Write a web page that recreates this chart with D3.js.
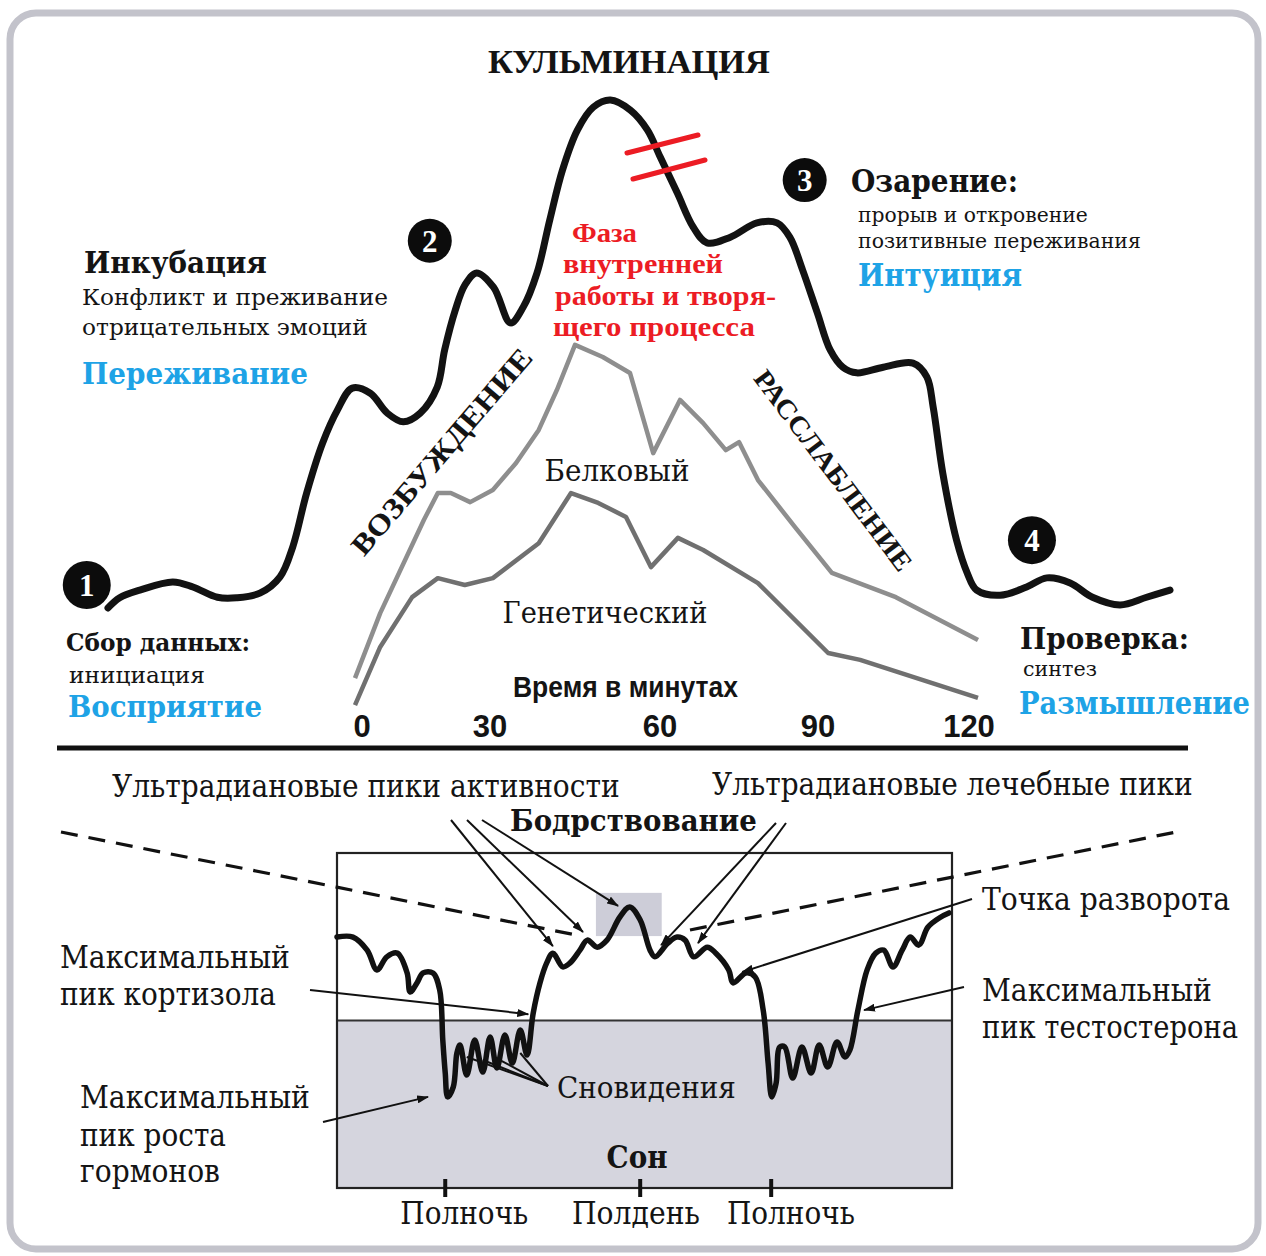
<!DOCTYPE html>
<html><head><meta charset="utf-8">
<script src="https://cdn.jsdelivr.net/npm/d3@7"></script>
<style>body{margin:0;background:#fff}</style>
</head><body><svg id="c" width="1266" height="1256"></svg>
<script>
// ===== DATA =====
// Upper chart: creative process curve (phase 0..100, intensity 0..100)
const phaseX = [0,1.1,3.0,6.1,8.0,10.3,12.1,14.3,16.2,17.4,18.7,20.2,21.6,23.0,24.7,26.3,27.8,29.4,31.0,31.7,32.7,33.6,34.7,36.3,37.9,39.1,40.4,41.6,42.8,44.2,45.7,47.3,49.2,50.8,52.0,53.6,55.1,56.4,58.6,61.1,63.0,64.2,65.4,66.8,68.0,69.2,70.5,73.0,75.8,77.1,77.7,78.6,79.9,80.9,81.8,84.0,86.5,88.4,90.6,92.7,95.3,97.8,100];
const phaseY = [0.4,2.4,3.9,5.5,4.5,2.5,2.4,3.3,6.5,12.4,22.9,32.7,39.2,43.5,42.5,38.6,36.9,38.6,43.7,51.0,58.8,63.7,66.1,63.3,56.3,59.4,66.1,76.5,86.3,94.1,98.6,100,98.0,94.1,88.8,81.8,75.1,72.0,73.1,75.9,75.9,73.1,66.7,58.2,51.0,47.6,46.5,47.6,48.4,45.7,39.8,26.9,13.7,7.3,3.9,2.9,4.5,6.3,5.3,2.5,1.0,2.5,3.9];
const stageNums = ["1","2","3","4"];
const stageX = [-2.0,30.3,65.6,87.0];
const stageY = [4.9,72.4,84.3,13.7];

// Inner chart: time in minutes
const minuteTicks = [0,30,60,90,120];
const proteinMinutes = [0,5.6,15.3,18.4,21.3,25.6,30.5,34.6,38.6,41.8,45.0,49.9,54.7,58.8,63.8,68.2,72.5,75.0,78.6,85.6,92.6,104.6,120];
const proteinLevel = [8.4,25.5,50,57.1,57.1,54.7,57.9,65,73.7,84.2,96.1,92.9,88.7,67.6,81.6,75.5,68.4,70.5,60.5,48.2,36.1,29.7,18.4];
const geneticMinutes = [0,5.6,12.7,18.4,24.4,30.5,38.6,44.3,49.1,54.0,58.4,63.4,68.2,78.6,91.9,97.9,120];
const geneticLevel = [1.3,16.6,29.7,34.7,32.9,34.7,43.9,57.1,54.5,50.8,37.6,45.3,42.1,33.4,15,13.2,3.2];

// Lower chart: 24h cycle (time 0..100, alertness 0..100)
const dayX = [0,2.6,4.9,6.5,8.1,9.8,11.4,11.9,13.0,14.0,15.6,16.7,17.2,17.6,18.0,18.9,19.5,20.0,21.1,22.4,23.7,24.9,26.0,27.3,28.5,29.8,30.9,31.9,33.0,34.1,35.1,36.7,37.9,39.5,40.7,42.3,43.9,46.0,47.6,49.3,50.9,51.7,53.8,55.3,56.6,58.0,60.2,61.6,63.7,64.4,66.5,68.0,69.3,70.1,70.7,71.4,72.0,72.8,74.1,75.6,77.1,78.4,79.8,81.3,82.6,83.4,84.7,86.2,87.6,88.9,90.4,91.9,93.2,94.6,96.1,98.2,99.5];
const dayY = [74.9,74.9,71.0,65.1,69.0,70.1,64.2,58.5,61.2,64.2,64.2,59.1,44.2,34.3,27.2,30.1,40.3,42.7,33.7,44.2,34.6,45.1,35.8,45.7,37.3,47.2,39.7,52.2,61.2,67.2,70.1,66.0,67.2,71.0,74.0,71.9,74.0,80.9,83.9,80.0,71.0,69.0,73.1,74.9,74.0,69.0,71.9,70.1,65.1,61.2,64.2,63.0,53.1,37.3,27.2,31.3,42.1,42.1,32.8,42.1,34.3,42.7,36.1,43.6,39.1,41.2,53.1,65.1,70.1,71.0,66.0,71.0,74.9,72.5,77.9,80.9,82.1];
const sleepLevel = 50;
const dayTicks = [17.6,49.3,70.6];
const dayTickLabels = ["Полночь","Полдень","Полночь"];
const dayLabelX = [20.7,48.6,73.8];

// ===== SCALES =====
const svg = d3.select("#c");
const px = d3.scaleLinear().domain([0,100]).range([108,1170]);
const py = d3.scaleLinear().domain([0,100]).range([610,100]);
const mx = d3.scaleLinear().domain(minuteTicks).range([355,490,660,818,978]);
const my = d3.scaleLinear().domain([0,100]).range([710,330]);
const dx = d3.scaleLinear().domain([0,100]).range([337,952]);
const dy = d3.scaleLinear().domain([0,100]).range([1188,853]);

const SERIF = "'DejaVu Serif', serif";
const TIMES = "'Liberation Serif', 'Times New Roman', serif";
const SANS = "'Liberation Sans Narrow', 'Liberation Sans', Arial, sans-serif";
const BLUE = "#1ea3e6", RED = "#ec1c24";

// text drawn at its natural size, then scaled horizontally to the reference width
function txt(x, y, s, o = {}) {
  const t = svg.append("text").attr("x", 0).attr("y", 0).text(s)
    .attr("font-family", o.family || SERIF)
    .attr("font-size", o.size || 24)
    .attr("font-weight", o.weight || "normal")
    .attr("fill", o.fill || "#141414")
    .attr("text-anchor", o.anchor || "start");
  let k = 1;
  if (o.len) {
    const w = t.node().getComputedTextLength();
    if (w > 0) k = o.len / w;
  }
  t.attr("transform", `translate(${x},${y})${o.rotate ? ` rotate(${o.rotate})` : ""} scale(${k},1)`);
  return t;
}

// frame
svg.append("rect").attr("x", 10).attr("y", 13).attr("width", 1248).attr("height", 1236)
  .attr("rx", 26).attr("fill", "none").attr("stroke", "#c3c3cb").attr("stroke-width", 7);

const defs = svg.append("defs");
defs.append("marker").attr("id", "ah").attr("viewBox", "0 0 12 8").attr("refX", 11).attr("refY", 4)
  .attr("markerWidth", 12).attr("markerHeight", 8).attr("markerUnits", "userSpaceOnUse").attr("orient", "auto")
  .append("path").attr("d", "M0,0 L12,4 L0,8 Z").attr("fill", "#111");

// ===== UPPER CHART =====
const gline = d3.line();
svg.append("path").attr("d", gline(proteinMinutes.map((m, i) => [mx(m), my(proteinLevel[i])])))
  .attr("fill", "none").attr("stroke", "#8e8e8e").attr("stroke-width", 4.5).attr("stroke-linejoin", "round");
svg.append("path").attr("d", gline(geneticMinutes.map((m, i) => [mx(m), my(geneticLevel[i])])))
  .attr("fill", "none").attr("stroke", "#707070").attr("stroke-width", 4.5).attr("stroke-linejoin", "round");

const cline = d3.line().curve(d3.curveCatmullRom.alpha(0.5));
svg.append("path").attr("d", cline(phaseX.map((x, i) => [px(x), py(phaseY[i])])))
  .attr("fill", "none").attr("stroke", "#121212").attr("stroke-width", 7)
  .attr("stroke-linejoin", "round").attr("stroke-linecap", "round");

svg.append("line").attr("x1", 627).attr("y1", 153).attr("x2", 698).attr("y2", 135)
  .attr("stroke", RED).attr("stroke-width", 5).attr("stroke-linecap", "round");
svg.append("line").attr("x1", 633).attr("y1", 179).attr("x2", 705).attr("y2", 160)
  .attr("stroke", RED).attr("stroke-width", 5).attr("stroke-linecap", "round");

stageNums.forEach((n, i) => {
  svg.append("circle").attr("cx", px(stageX[i])).attr("cy", py(stageY[i])).attr("r", i === 0 || i === 3 ? 24 : 22).attr("fill", "#0c0c0c");
  txt(px(stageX[i]), py(stageY[i]) + 11, n, {family: TIMES, weight: "bold", size: 31, fill: "#fff", anchor: "middle"});
});

minuteTicks.forEach(m => {
  txt(mx(m) + (m === 0 ? 7 : (m === 120 ? -9 : 0)), 737, String(m), {family: "'Liberation Sans', Arial, sans-serif", weight: "bold", size: 31, anchor: "middle"});
});
txt(513, 697, "Время в минутах", {family: SANS, weight: "bold", size: 30, len: 225});
txt(617, 481, "Белковый", {size: 29, anchor: "middle", len: 145});
txt(605, 623, "Генетический", {size: 29, anchor: "middle", len: 205});

txt(488, 73, "КУЛЬМИНАЦИЯ", {family: TIMES, weight: "bold", size: 34, len: 282});
txt(84, 273, "Инкубация", {weight: "bold", size: 30, len: 183});
txt(82, 305, "Конфликт и преживание", {size: 23, len: 306});
txt(82, 335, "отрицательных эмоций", {size: 23, len: 286});
txt(82, 384, "Переживание", {weight: "bold", size: 30, fill: BLUE, len: 226});
txt(66, 651, "Сбор данных:", {weight: "bold", size: 24, len: 184});
txt(69, 683, "инициация", {size: 22, len: 136});
txt(68, 717, "Восприятие", {weight: "bold", size: 30, fill: BLUE, len: 194});

txt(572, 242, "Фаза", {family: TIMES, weight: "bold", size: 27, fill: RED, len: 65});
txt(563, 273, "внутренней", {family: TIMES, weight: "bold", size: 27, fill: RED, len: 160});
txt(555, 305, "работы и творя-", {family: TIMES, weight: "bold", size: 27, fill: RED, len: 221});
txt(553, 336, "щего процесса", {family: TIMES, weight: "bold", size: 27, fill: RED, len: 202});

txt(851, 192, "Озарение:", {weight: "bold", size: 31, len: 167});
txt(858, 222, "прорыв и откровение", {size: 21, len: 230});
txt(858, 248, "позитивные переживания", {size: 21, len: 283});
txt(858, 286, "Интуиция", {weight: "bold", size: 31, fill: BLUE, len: 164});

txt(1020, 649, "Проверка:", {weight: "bold", size: 29, len: 169});
txt(1023, 676, "синтез", {size: 21, len: 74});
txt(1019, 714, "Размышление", {weight: "bold", size: 31, fill: BLUE, len: 231});

txt(449, 458, "ВОЗБУЖДЕНИЕ", {family: TIMES, weight: "bold", size: 29, anchor: "middle", len: 262, rotate: -49.5});
txt(826, 476, "РАССЛАБЛЕНИЕ", {family: TIMES, weight: "bold", size: 27, anchor: "middle", len: 244, rotate: 53});

svg.append("line").attr("x1", 57).attr("y1", 748).attr("x2", 1188).attr("y2", 748)
  .attr("stroke", "#111").attr("stroke-width", 5);

// ===== LOWER CHART =====
txt(112, 797, "Ультрадиановые пики активности", {size: 31, len: 508});
txt(712, 795, "Ультрадиановые лечебные пики", {size: 31, len: 481});
txt(510, 831, "Бодрствование", {weight: "bold", size: 29, len: 247});

svg.append("rect").attr("x", dx(0)).attr("y", dy(sleepLevel)).attr("width", dx(100) - dx(0)).attr("height", dy(0) - dy(sleepLevel))
  .attr("fill", "#d5d5de");
svg.append("rect").attr("x", dx(42.1)).attr("y", dy(88.1)).attr("width", dx(52.8) - dx(42.1)).attr("height", dy(75.2) - dy(88.1))
  .attr("fill", "#cdcdd8");
svg.append("line").attr("x1", dx(0)).attr("x2", dx(100)).attr("y1", dy(sleepLevel)).attr("y2", dy(sleepLevel))
  .attr("stroke", "#333").attr("stroke-width", 2);
svg.append("rect").attr("x", dx(0)).attr("y", dy(100)).attr("width", dx(100) - dx(0)).attr("height", dy(0) - dy(100))
  .attr("fill", "none").attr("stroke", "#222").attr("stroke-width", 2.2);

svg.append("path").attr("d", `M61,832 L581,936`).attr("fill", "none").attr("stroke", "#111")
  .attr("stroke-width", 3.2).attr("stroke-dasharray", "17,11");
svg.append("path").attr("d", `M690,930 L1181,831`).attr("fill", "none").attr("stroke", "#111")
  .attr("stroke-width", 3.2).attr("stroke-dasharray", "17,11");

svg.append("path").attr("d", cline(dayX.map((x, i) => [dx(x), dy(dayY[i])])))
  .attr("fill", "none").attr("stroke", "#111").attr("stroke-width", 5.5)
  .attr("stroke-linejoin", "round").attr("stroke-linecap", "round");

dayTicks.forEach((t, i) => {
  svg.append("line").attr("x1", dx(t)).attr("x2", dx(t)).attr("y1", 1179).attr("y2", 1197)
    .attr("stroke", "#111").attr("stroke-width", 4);
  txt(dx(dayLabelX[i]), 1224, dayTickLabels[i], {size: 31, anchor: "middle", len: 128});
});

function arrow(x1, y1, tx, ty, head = true) {
  const l = svg.append("line").attr("x1", x1).attr("y1", y1).attr("x2", dx(tx)).attr("y2", dy(ty))
    .attr("stroke", "#111").attr("stroke-width", 2);
  if (head) l.attr("marker-end", "url(#ah)");
}
arrow(451, 820, 35.1, 72.2);
arrow(467, 820, 40.0, 76.4);
arrow(482, 820, 45.7, 84.2);
arrow(776, 823, 52.7, 72.5);
arrow(786, 823, 58.7, 73.1);
arrow(972, 899, 65.9, 64.5);
arrow(310, 990, 31.1, 51.9);
arrow(323, 1122, 14.8, 27.2);
arrow(964, 987, 85.7, 53.1);
[[21.1,39.1],[23.7,38.2],[26.5,38.2],[29.8,40.3]].forEach(t => arrow(548, 1086, t[0], t[1], false));

txt(557, 1098, "Сновидения", {size: 30, len: 179});
txt(637, 1168, "Сон", {weight: "bold", size: 31, anchor: "middle", len: 61});
txt(982, 910, "Точка разворота", {size: 31, len: 248});
txt(982, 1001, "Максимальный", {size: 31, len: 230});
txt(982, 1038, "пик тестостерона", {size: 31, len: 256});
txt(60, 968, "Максимальный", {size: 31, len: 230});
txt(60, 1005, "пик кортизола", {size: 31, len: 216});
txt(80, 1108, "Максимальный", {size: 31, len: 230});
txt(80, 1146, "пик роста", {size: 31, len: 146});
txt(80, 1182, "гормонов", {size: 31, len: 140});
</script></body></html>
